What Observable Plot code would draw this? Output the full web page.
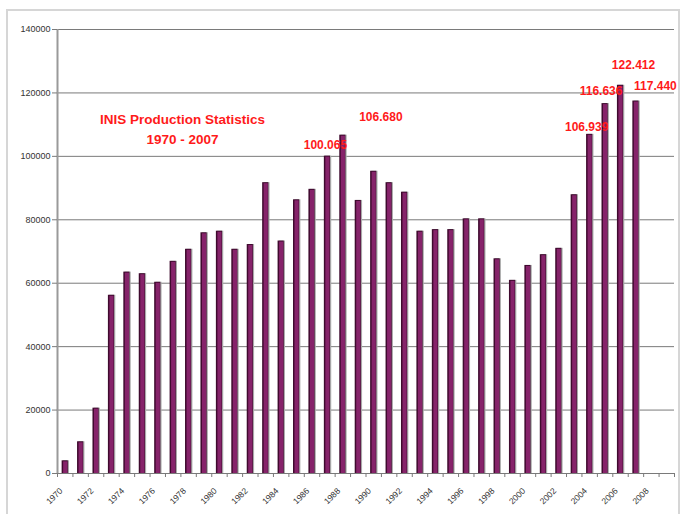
<!DOCTYPE html>
<html><head><meta charset="utf-8">
<script src="https://cdn.jsdelivr.net/npm/d3@7"></script>
<script src="https://cdn.jsdelivr.net/npm/@observablehq/plot@0.6"></script>
<style>
body{margin:0;background:#fff;font-family:Arial,"Liberation Sans",sans-serif;}
#wrap{position:relative;width:681px;height:514px;overflow:hidden;background:#fff;}
#border{position:absolute;left:6px;top:9px;width:670px;height:520px;border:2px solid #d6d6d6;}
#chart{position:absolute;left:0;top:0;}
</style></head><body>
<div id="wrap"><div id="border"></div><div id="chart"></div></div>
<script>
// ---- data ----
const years = [1970,1971,1972,1973,1974,1975,1976,1977,1978,1979,1980,1981,1982,1983,1984,1985,1986,1987,1988,1989,1990,1991,1992,1993,1994,1995,1996,1997,1998,1999,2000,2001,2002,2003,2004,2005,2006,2007];
const values = [4000,10000,20600,56200,63500,63000,60300,66900,70700,75900,76400,70700,72200,91700,73300,86300,89600,100065,106680,86100,95300,91700,88700,76400,76900,76900,80300,80300,67700,60900,65600,69000,71000,87900,106939,116636,122412,117440];
const axisYears = [1970,1971,1972,1973,1974,1975,1976,1977,1978,1979,1980,1981,1982,1983,1984,1985,1986,1987,1988,1989,1990,1991,1992,1993,1994,1995,1996,1997,1998,1999,2000,2001,2002,2003,2004,2005,2006,2007,2008,2009];
const labelYears = [1970,1972,1974,1976,1978,1980,1982,1984,1986,1988,1990,1992,1994,1996,1998,2000,2002,2004,2006,2008];
const yTicks = [0,20000,40000,60000,80000,100000,120000,140000];
const annotatedYears = [1987,1988,2004,2005,2006,2007];
const titleLines = ["INIS Production Statistics","1970 - 2007"];

// ---- layout ----
const W = 681, H = 514, mL = 57, mR = 7, mT = 29, mB = 41;
const step = (W - mL - mR) / axisYears.length;
const data = years.map((y, i) => ({year: y, value: values[i]}));
const fmt = v => d3.format(",")(v).replace(/,/g, ".");
const annOffsets = {1987: [-2, -11], 1988: [38, -18], 2004: [-3, -7], 2005: [-4, -12], 2006: [13, -20], 2007: [19.5, -14.5]};
const red = "#ff1a1a";

const annMarks = annotatedYears.map(yr => Plot.text(data.filter(d => d.year === yr), {
  x: "year", y: "value", text: d => fmt(d.value),
  dx: annOffsets[yr][0], dy: annOffsets[yr][1],
  fill: red, fontWeight: "bold", fontSize: 12
}));

const chart = Plot.plot({
  width: W, height: H,
  marginLeft: mL, marginRight: mR, marginTop: mT, marginBottom: mB,
  style: {fontFamily: "Arial, 'Liberation Sans', sans-serif", background: "transparent"},
  x: {type: "band", domain: axisYears, paddingInner: 0.6, paddingOuter: 0.3, round: false, label: null},
  y: {domain: [0, 140000], label: null},
  marks: [
    Plot.ruleY(yTicks, {stroke: "#7a7a7a", strokeWidth: 1}),
    Plot.ruleX([axisYears[0]], {stroke: "#9a9a9a", strokeWidth: 2, dx: -step / 2}),
    Plot.axisY({ticks: yTicks, tickSize: 5, tickPadding: 2, tickFormat: d => String(d), fontSize: 9, fill: "#333", stroke: "#7a7a7a", label: null}),
    Plot.axisX({ticks: axisYears, tickSize: 4, fill: "none", stroke: "#7a7a7a", dx: -step / 2, label: null}),
    Plot.axisX({ticks: [axisYears[axisYears.length - 1]], tickSize: 4, fill: "none", stroke: "#7a7a7a", dx: step / 2, label: null}),
    Plot.text(labelYears, {x: d => d, text: d => String(d), frameAnchor: "bottom", rotate: -45, textAnchor: "end", lineAnchor: "middle", dx: -4, dy: 16, fontSize: 8.5, fill: "#333"}),
    Plot.barY(data, {x: "year", y: "value", fill: "#a9a9a9", dx: 1.2}),
    Plot.barY(data, {x: "year", y: "value", fill: "#3f0a2e"}),
    Plot.barY(data, {x: "year", y: "value", fill: "#86236a", insetLeft: 1.5, insetRight: 0.5, insetTop: 1}),
    ...annMarks,
    Plot.text([titleLines.join("\n")], {frameAnchor: "top-left", dx: 125, dy: 98.5, textAnchor: "middle", lineAnchor: "middle", lineHeight: 1.45, fill: red, fontWeight: "bold", fontSize: 13.5})
  ]
});
document.getElementById("chart").appendChild(chart);
</script>
</body></html>
